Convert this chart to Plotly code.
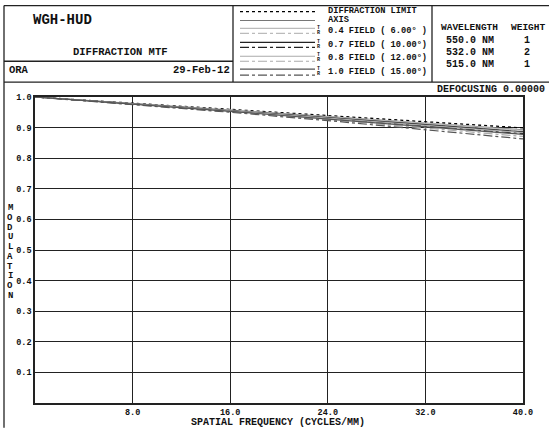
import plotly.graph_objects as go

# ---- data ----
freq = [0, 8, 16, 24, 32, 40]
diff_limit = [1.0, 0.980, 0.960, 0.939, 0.919, 0.899]
axis_mtf = [1.0, 0.979, 0.958, 0.937, 0.915, 0.893]
f04_T = [1.0, 0.979, 0.958, 0.936, 0.914, 0.891]
f04_R = [1.0, 0.978, 0.957, 0.934, 0.911, 0.887]
f07_T = [1.0, 0.978, 0.956, 0.933, 0.910, 0.886]
f07_R = [1.0, 0.978, 0.955, 0.931, 0.906, 0.880]
f08_T = [1.0, 0.978, 0.955, 0.931, 0.908, 0.884]
f08_R = [1.0, 0.977, 0.952, 0.926, 0.899, 0.871]
f10_T = [1.0, 0.977, 0.953, 0.928, 0.903, 0.878]
f10_R = [1.0, 0.976, 0.950, 0.923, 0.894, 0.863]

x_ticks = [8, 16, 24, 32, 40]
x_tick_labels = ["8.0", "16.0", "24.0", "32.0", "40.0"]
y_ticks = [0.1, 0.2, 0.3, 0.4, 0.5, 0.6, 0.7, 0.8, 0.9, 1.0]
y_tick_labels = ["0.1", "0.2", "0.3", "0.4", "0.5", "0.6", "0.7", "0.8", "0.9", "1.0"]

legend_labels = ["DIFFRACTION LIMIT", "AXIS", "0.4 FIELD ( 6.00\u00b0 )",
                 "0.7 FIELD ( 10.00\u00b0)", "0.8 FIELD ( 12.00\u00b0)", "1.0 FIELD ( 15.00\u00b0)"]
wavelengths = ["550.0 NM", "532.0 NM", "515.0 NM"]
weights = ["1", "2", "1"]

# ---- layout geometry (pixels) ----
W, H = 549, 430
PL, PR, PT, PB = 35, 523, 97, 405
MONO = "Liberation Mono, Courier New, monospace"


def px(x):
    return (x - PL) / (PR - PL)


def py(y):
    return (PB - y) / (PB - PT)


series = [
    (diff_limit, "#000000", "dot", 1.3),
    (axis_mtf, "#777777", "solid", 1.2),
    (f04_T, "#bbbbbb", "solid", 1.2),
    (f04_R, "#bbbbbb", "dashdot", 1.2),
    (f07_T, "#222222", "solid", 1.2),
    (f07_R, "#222222", "dashdot", 1.2),
    (f08_T, "#aaaaaa", "solid", 1.2),
    (f08_R, "#aaaaaa", "dashdot", 1.2),
    (f10_T, "#555555", "solid", 1.2),
    (f10_R, "#555555", "dashdot", 1.2),
]

fig = go.Figure()
for ys, col, dash, w in series:
    fig.add_trace(go.Scatter(x=freq, y=ys, mode="lines",
                             line=dict(color=col, dash=dash, width=w),
                             showlegend=False, hoverinfo="skip"))

shapes = []


def hline(x0, x1, y, color="#222", width=1.3, dash="solid"):
    shapes.append(dict(type="line", xref="paper", yref="paper",
                       x0=px(x0), x1=px(x1), y0=py(y), y1=py(y),
                       line=dict(color=color, width=width, dash=dash)))


def vline(x, y0, y1, color="#222", width=1.3):
    shapes.append(dict(type="line", xref="paper", yref="paper",
                       x0=px(x), x1=px(x), y0=py(y0), y1=py(y1),
                       line=dict(color=color, width=width)))


# header frame
hline(4, 549, 5)
hline(4, 549, 82)
hline(4, 233, 61)
vline(4, 5, 430)
vline(233, 5, 82)
vline(432, 5, 82)

# legend samples
leg_rows = [(11, series[0]), (20, series[1]),
            (28, series[2]), (33, series[3]),
            (42, series[4]), (47, series[5]),
            (56, series[6]), (61, series[7]),
            (69, series[8]), (75, series[9])]
for y, (_, col, dash, w) in leg_rows:
    hline(240, 315, y, color=col, width=w, dash=dash)

annotations = []


def text(x, y, s, size=9, anchor="left", bold=True, vanchor="middle"):
    annotations.append(dict(xref="paper", yref="paper", x=px(x), y=py(y),
                            text=s, showarrow=False, xanchor=anchor, yanchor=vanchor,
                            font=dict(family=MONO, size=size, color="#111",
                                      weight="bold" if bold else "normal")))


text(31, 19, "WGH-HUD", size=14)
text(120, 52, "DIFFRACTION MTF", size=10.5, anchor="center")
text(7, 70, "ORA", size=10.5)
text(232, 70, "29-Feb-12", size=10.5, anchor="right")

leg_text_y = [10, 19, 31, 45, 58, 72]
for y, s in zip(leg_text_y, legend_labels):
    text(326, y, s, size=8.7)
for y in [31, 45, 58, 72]:
    text(318, y - 3, "T", size=5, anchor="center")
    text(318, y + 2, "R", size=5, anchor="center")

text(439, 27, "WAVELENGTH", size=9.5)
text(509, 27, "WEIGHT", size=9.5)
for i, (wl, wt) in enumerate(zip(wavelengths, weights)):
    text(444, 40 + 12 * i, wl, size=10)
    text(527, 40 + 12 * i, wt, size=10, anchor="center")

text(547, 89, "DEFOCUSING 0.00000", size=10, anchor="right")

# vertical axis title, stacked letters
for i, ch in enumerate("MODULATION"):
    text(10, 209 + i * 9.8, ch, size=9, anchor="center")

text(278, 424.5, "SPATIAL FREQUENCY (CYCLES/MM)", size=10, anchor="center")

fig.update_layout(
    width=W, height=H,
    margin=dict(l=PL, r=W - PR, t=PT, b=H - PB, pad=0),
    paper_bgcolor="white", plot_bgcolor="white",
    shapes=shapes, annotations=annotations,
    xaxis=dict(range=[0, 40], tickvals=x_ticks, ticktext=x_tick_labels,
               showgrid=True, gridcolor="#222", gridwidth=1.3,
               showline=True, linecolor="#222", linewidth=1.5, mirror=True,
               zeroline=False, ticks="", ticklabelstandoff=0,
               tickfont=dict(family=MONO, size=8.5, color="#111", weight="bold")),
    yaxis=dict(range=[0, 1], tickvals=y_ticks, ticktext=y_tick_labels,
               showgrid=True, gridcolor="#222", gridwidth=1.3,
               showline=True, linecolor="#222", linewidth=1.5, mirror=True,
               zeroline=False, ticks="",
               tickfont=dict(family=MONO, size=8.5, color="#111", weight="bold")),
)

fig.write_html("out.html", config={"displayModeBar": False},
               post_script="document.body.style.margin='0';document.body.style.overflow='hidden';")
